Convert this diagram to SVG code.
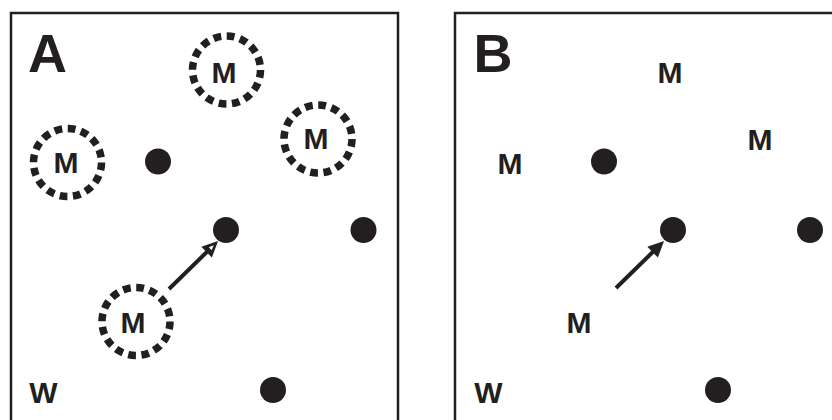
<svg xmlns="http://www.w3.org/2000/svg" width="832" height="420" viewBox="0 0 832 420">
<style>
.frame{fill:none;stroke:#231f20;stroke-width:2.5}
.ring{fill:none;stroke:#231f20;stroke-width:7.5;stroke-dasharray:7.8 5.55}
.dot{fill:#231f20}
.lbl{font-family:"Liberation Sans",Arial,sans-serif;font-weight:bold;font-size:30px;fill:#231f20;text-anchor:middle}
.big{font-family:"Liberation Sans",Arial,sans-serif;font-weight:bold;font-size:54px;fill:#231f20;text-anchor:middle}
.arr{fill:none;stroke:#231f20;stroke-width:4}
</style>
<defs>
<marker id="headA" viewBox="-18 -10 20 20" markerUnits="userSpaceOnUse" markerWidth="20" markerHeight="20" refX="-10" refY="0" orient="auto">
<path d="M0,0 L-16,-7.5 L-16,7.5 Z" fill="#231f20"/>
<path d="M-6,0 L-11,-2 L-11,2 Z" fill="#fff"/>
</marker>
<marker id="headB" viewBox="-18 -10 20 20" markerUnits="userSpaceOnUse" markerWidth="20" markerHeight="20" refX="-10" refY="0" orient="auto">
<path d="M0,0 L-16,-7.5 L-16,7.5 Z" fill="#231f20"/>
</marker>
</defs>
<rect fill="#fff" width="832" height="420"/>
<g id="panelA">
<rect class="frame" x="11" y="13" width="387" height="420"/>
<text class="big" x="47.5" y="72">A</text>
<g id="A-m1"><circle class="ring" cx="226.5" cy="70" r="34"/><text class="lbl" x="224" y="83">M</text></g>
<g id="A-m2"><circle class="ring" cx="67.5" cy="162.5" r="34"/><text class="lbl" x="66" y="173">M</text></g>
<g id="A-m3"><circle class="ring" cx="318" cy="139" r="34"/><text class="lbl" x="316" y="149">M</text></g>
<g id="A-m4"><circle class="ring" cx="136" cy="321.5" r="34"/><text class="lbl" x="133" y="333">M</text></g>
<g id="A-d1"><circle class="dot" cx="158" cy="161.5" r="13"/></g>
<g id="A-d2"><circle class="dot" cx="226" cy="230" r="13"/></g>
<g id="A-d3"><circle class="dot" cx="363.5" cy="230" r="13"/></g>
<g id="A-d4"><circle class="dot" cx="273" cy="390" r="13"/></g>
<g id="A-w"><text class="lbl" x="43.5" y="403">W</text></g>
</g>
<g id="panelB">
<rect class="frame" x="455" y="13" width="400" height="420"/>
<text class="big" x="493" y="72">B</text>
<g id="B-m1"><text class="lbl" x="670" y="83">M</text></g>
<g id="B-m2"><text class="lbl" x="510" y="174">M</text></g>
<g id="B-m3"><text class="lbl" x="760" y="150">M</text></g>
<g id="B-m4"><text class="lbl" x="579" y="333">M</text></g>
<g id="B-d1"><circle class="dot" cx="604" cy="161.5" r="13"/></g>
<g id="B-d2"><circle class="dot" cx="673" cy="230" r="13"/></g>
<g id="B-d3"><circle class="dot" cx="810" cy="230" r="13"/></g>
<g id="B-d4"><circle class="dot" cx="718" cy="390" r="13"/></g>
<g id="B-w"><text class="lbl" x="488.5" y="403">W</text></g>
</g>
<g id="connectors">
<path class="arr" d="M169,289 L210.9,248" marker-end="url(#headA)"/>
<path class="arr" d="M616,288 L656.9,248" marker-end="url(#headB)"/>
</g>
</svg>
